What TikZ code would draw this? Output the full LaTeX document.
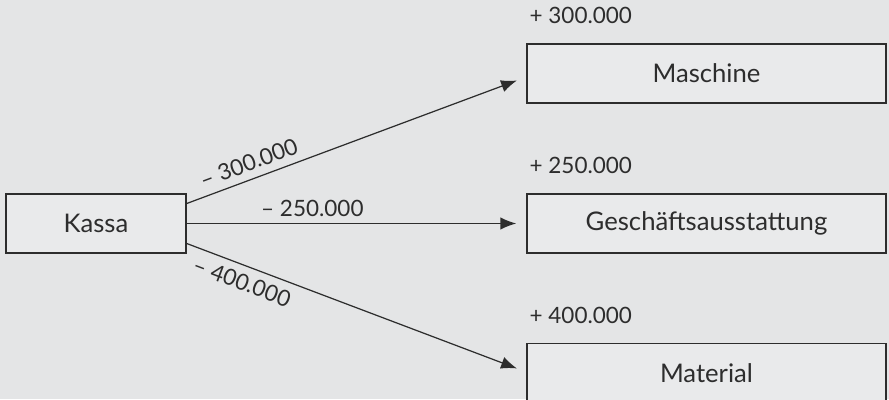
\documentclass[tikz,border=0pt]{standalone}
\usepackage{fontspec}
\setmainfont{Lato}
\usepackage{tikz}
\usetikzlibrary{arrows.meta,calc}
\definecolor{bggray}{RGB}{228,229,230}
\definecolor{boxgray}{RGB}{233,234,235}
\definecolor{linegray}{RGB}{45,45,45}
\tikzstyle{account}=[rectangle,draw=linegray,fill=boxgray,line width=0.85pt,minimum height=1.18cm,inner sep=0pt,font=\fontsize{14.6}{17}\selectfont,text=linegray]
\tikzstyle{flow} = [draw=linegray,line width=0.7pt,-{Latex[length=9pt,width=7pt]},shorten >=0.2cm]
\tikzstyle{amount} = [font=\fontsize{12.8}{15}\selectfont,text=linegray]

\begin{document}
\begin{tikzpicture}[x=0.02cm,y=-0.02cm]

    % background, fixes the size
    \fill[bggray] (0,0) rectangle (889,399);
    \useasboundingbox (0,0) rectangle (889,399);

    \node[account,minimum width=3.6cm] (kassa) at (96,223.5) {Kassa};
    \foreach \pos/ \name/ \txt in {{(706.5,73.5)/maschine/Maschine},{(706.5,223.5)/ausstattung/Geschäftsausstattung},{(706.5,373)/material/Material}}
        \node[account,minimum width=7.18cm] (\name) at \pos {\txt};

    % amounts above the target accounts
    \foreach \name/ \val in {maschine/300.000, ausstattung/250.000, material/400.000}
        \node[amount,anchor=south west,inner sep=0pt] at ([xshift=0.06cm,yshift=0.38cm]\name.north west) {+ \val};

    % payments out of the Kassa
    \path[flow] ([yshift=0.4cm]kassa.east) -- node[amount,pos=0.2,above=1pt,sloped] {– 300.000} ([yshift=-0.07cm]maschine.west);
    \path[flow] (kassa.east) -- node[amount,pos=0.37,above=0pt] {– 250.000} (ausstattung.west);
    \path[flow] ([yshift=-0.4cm]kassa.east) -- node[amount,pos=0.18,below=1pt,sloped] {– 400.000} ([yshift=0.02cm]material.west);

\end{tikzpicture}
\end{document}
